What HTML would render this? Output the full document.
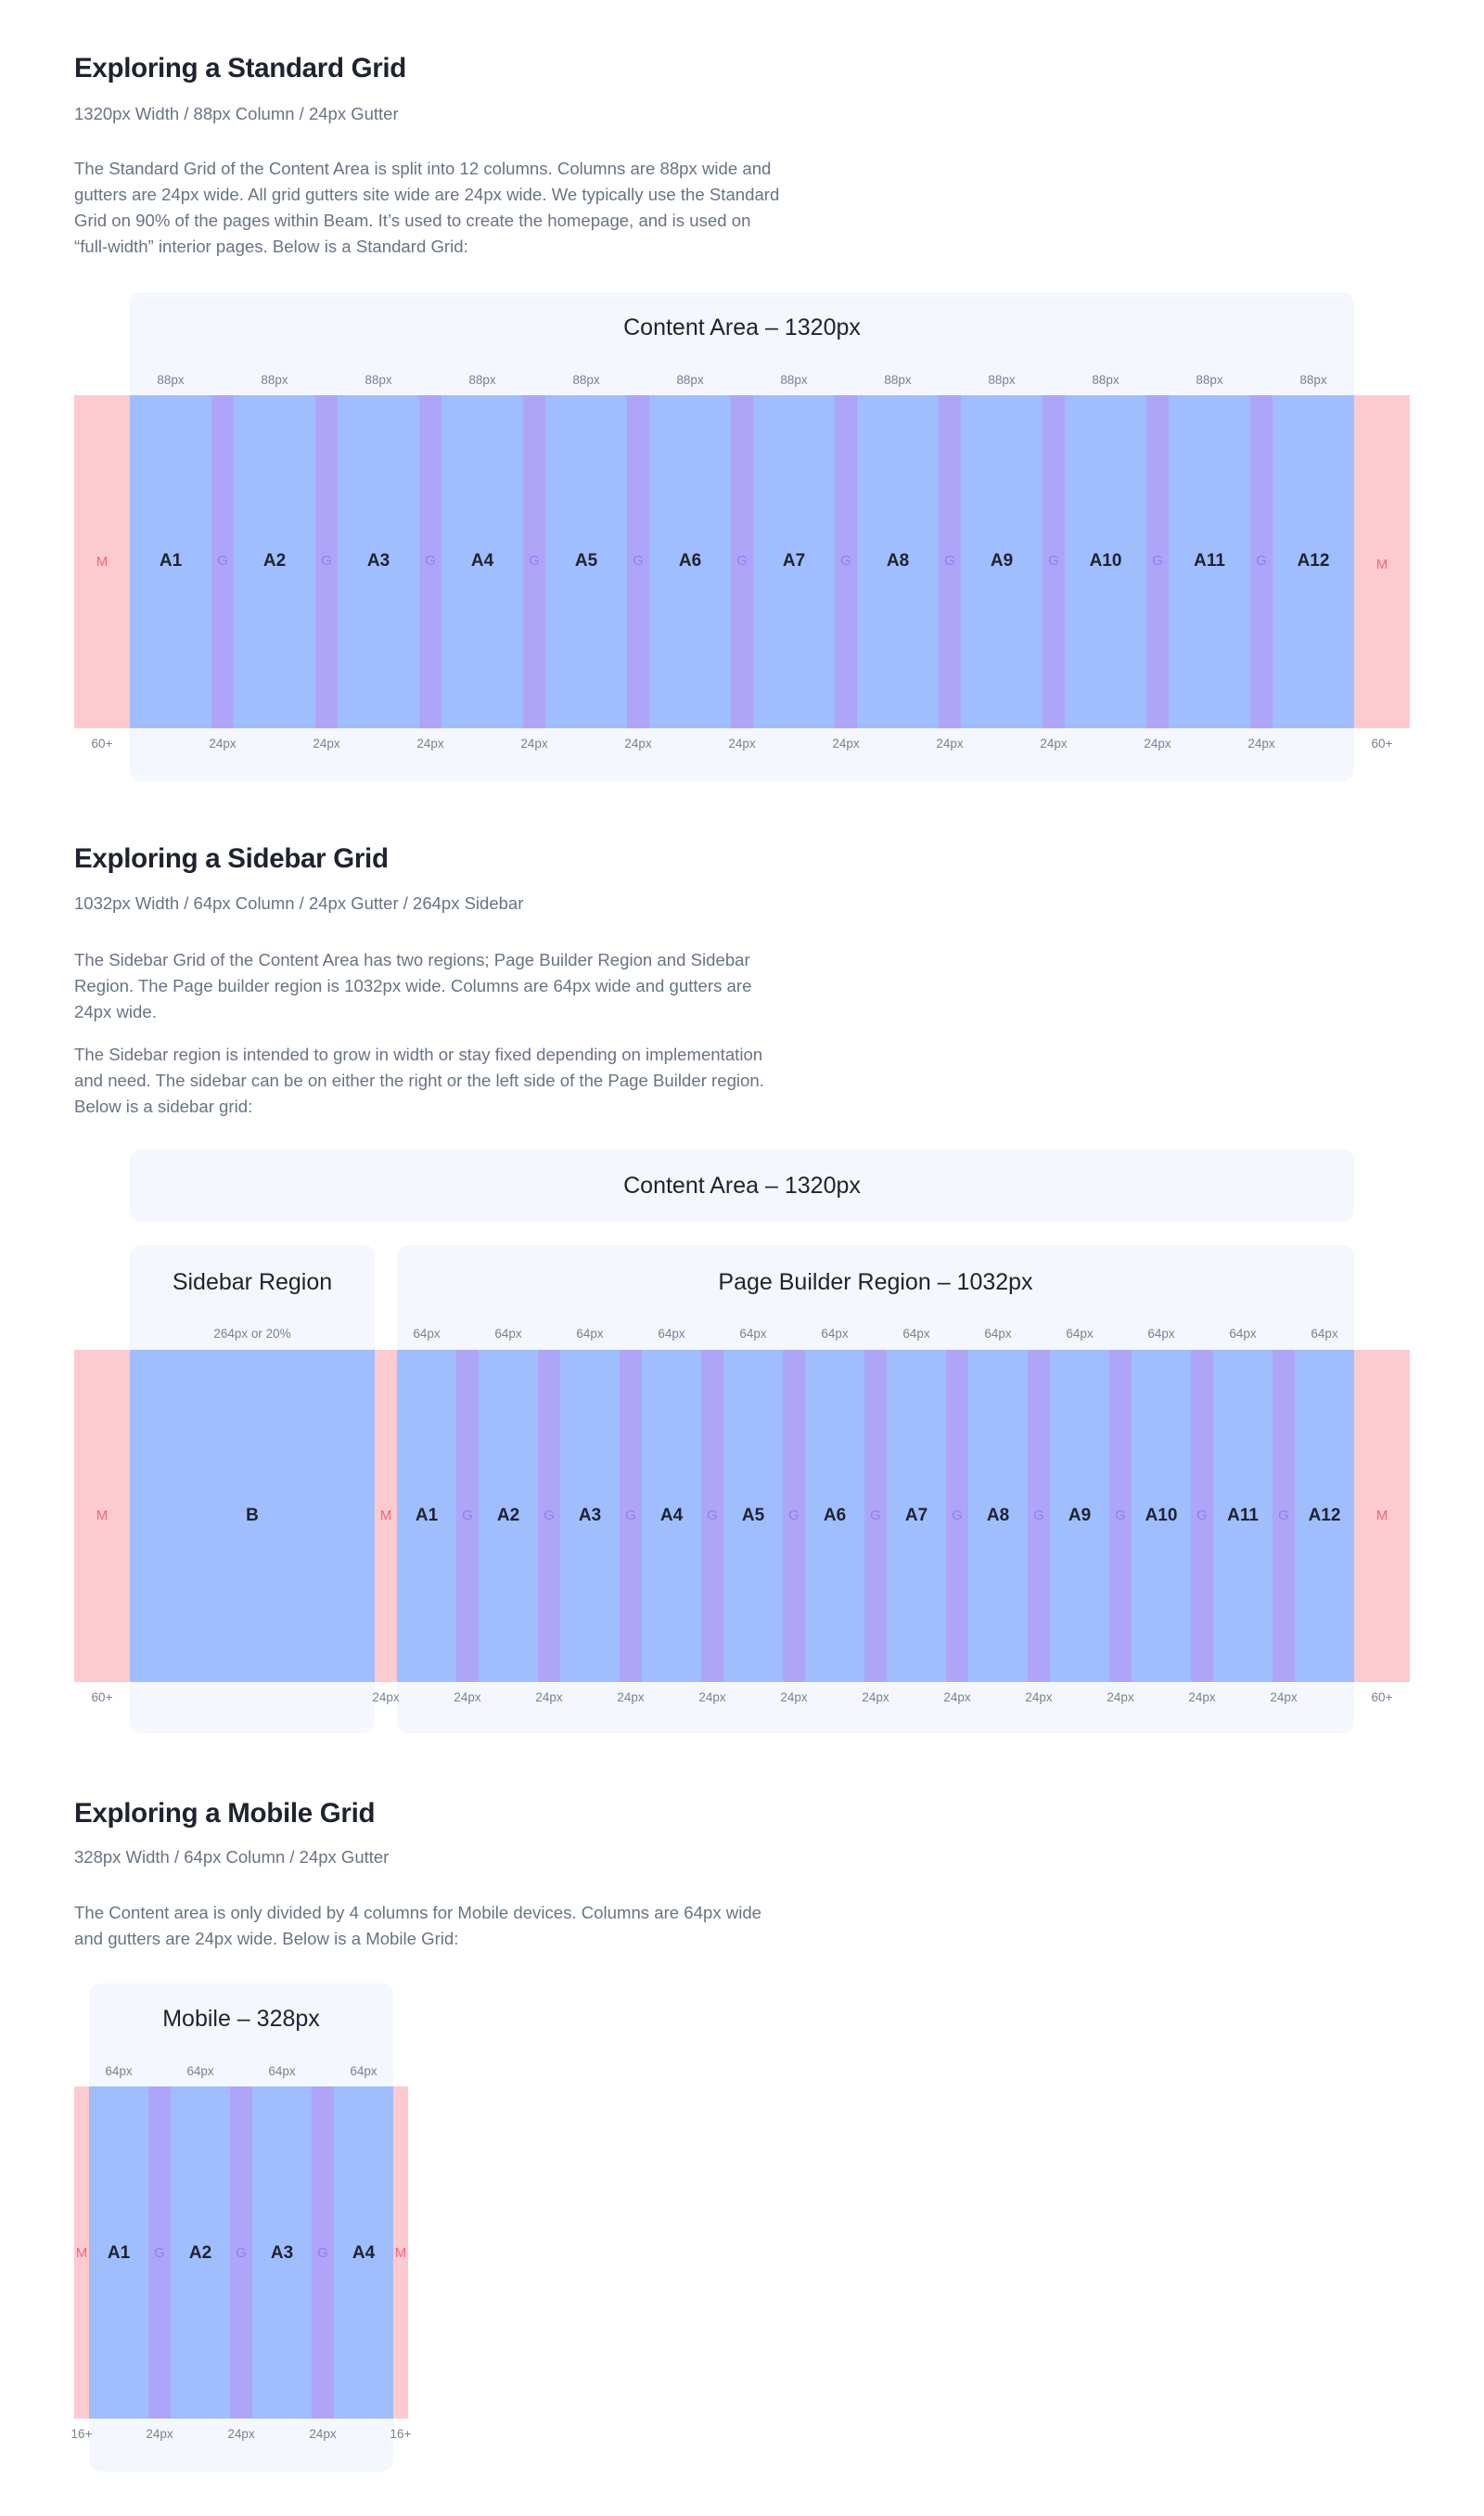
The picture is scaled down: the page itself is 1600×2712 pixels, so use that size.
<!DOCTYPE html>
<html><head><meta charset="utf-8"><title>Grid Systems</title>
<style>
*{margin:0;padding:0;box-sizing:border-box}
html,body{width:1600px;height:2712px;background:#fff;overflow:hidden}
body{position:relative;font-family:"Liberation Sans",sans-serif;color:#1f2330}
.abs{position:absolute}
h2{position:absolute;left:80px;font-size:29.5px;font-weight:700;line-height:36px;color:#1f2330;letter-spacing:-0.3px}
.sub{position:absolute;left:80px;font-size:18.5px;line-height:24px;color:#687385}
.para{position:absolute;left:80px;font-size:18.6px;line-height:28px;color:#687385;white-space:nowrap}
.card{position:absolute;background:#f4f7fe;border-radius:12px}
.title{position:absolute;text-align:center;font-size:25px;line-height:30px;color:#1f2330}
.lbl{position:absolute;text-align:center;font-size:13.5px;line-height:16px;color:#7a8190;width:120px;margin-left:-60px}
.col{position:absolute;background:#a0bdfd}
.gut{position:absolute;background:#aea5f9}
.mar{position:absolute;background:#fdcacf}
.tx{position:absolute;text-align:center;font-size:19px;line-height:24px;font-weight:700;width:80px;margin-left:-40px}
</style></head>
<body>
<h2 style="top:56px">Exploring a Standard Grid</h2>
<div class="sub" style="top:111px">1320px Width / 88px Column / 24px Gutter</div>
<div class="para" style="top:168px">The Standard Grid of the Content Area is split into 12 columns. Columns are 88px wide and<br>gutters are 24px wide. All grid gutters site wide are 24px wide. We typically use the Standard<br>Grid on 90% of the pages within Beam. It’s used to create the homepage, and is used on<br>“full-width” interior pages. Below is a Standard Grid:</div>

<h2 style="top:908px">Exploring a Sidebar Grid</h2>
<div class="sub" style="top:962px">1032px Width / 64px Column / 24px Gutter / 264px Sidebar</div>
<div class="para" style="top:1021px">The Sidebar Grid of the Content Area has two regions; Page Builder Region and Sidebar<br>Region. The Page builder region is 1032px wide. Columns are 64px wide and gutters are<br>24px wide.</div>
<div class="para" style="top:1123px">The Sidebar region is intended to grow in width or stay fixed depending on implementation<br>and need. The sidebar can be on either the right or the left side of the Page Builder region.<br>Below is a sidebar grid:</div>

<h2 style="top:1937px">Exploring a Mobile Grid</h2>
<div class="sub" style="top:1990px">328px Width / 64px Column / 24px Gutter</div>
<div class="para" style="top:2048px">The Content area is only divided by 4 columns for Mobile devices. Columns are 64px wide<br>and gutters are 24px wide. Below is a Mobile Grid:</div>

<div id="root"></div>
<script>
// Grid specs (design values)
const standardCols = ["A1","A2","A3","A4","A5","A6","A7","A8","A9","A10","A11","A12"];
const standardColWidth = 88;
const standardGutter = 24;
const standardMargin = 60;
const sidebarCols = ["A1","A2","A3","A4","A5","A6","A7","A8","A9","A10","A11","A12"];
const sidebarColWidth = 64;
const sidebarGutter = 24;
const sidebarWidth = 264;
const mobileCols = ["A1","A2","A3","A4"];
const mobileColWidth = 64;
const mobileGutter = 24;
const mobileMargin = 16;

const root = document.getElementById('root');
function mk(cls, x, y, w, h, text){
  const d = document.createElement('div');
  d.className = cls;
  d.style.left = x + 'px'; d.style.top = y + 'px';
  if (w != null) d.style.width = w + 'px';
  if (h != null) d.style.height = h + 'px';
  if (text != null) d.textContent = text;
  root.appendChild(d);
  return d;
}
function label(x, y, text){ return mk('lbl', x, y - 8, null, null, text); }
function tx(x, y, text, color){ const d = mk('tx', x, y - 12, null, null, text); d.style.color = color; return d; }

function drawColumns(names, x0, cw, gw, top, h, midY, topLblY, botLblY, prefix){
  names.forEach((n, i) => {
    const x = x0 + i * (cw + gw);
    const c = mk('col', x, top, cw, h);
    
    
    const t = tx(x + cw / 2, midY, n, '#1f2330');
    
    
    const l = label(x + cw / 2, topLblY, cw + 'px');
    
    
    if (i < names.length - 1) {
      const gx = x + cw;
      const g = mk('gut', gx, top, gw, h);
      
      
      const gt = tx(gx + gw / 2, midY, 'G', '#8c80f2');
      gt.style.fontWeight = '400'; gt.style.fontSize = '15px';
      
      
      const gl = label(gx + gw / 2, botLblY, gw + 'px');
      
      
    }
  });
}
function margin(x, w, top, h, midY, botLblY, lbl, prefix){
  const m = mk('mar', x, top, w, h);
  
  
  const t = tx(x + w / 2, midY, 'M', '#f4677a');
  t.style.fontWeight = '400'; t.style.fontSize = '15px';
  
  
  if (lbl) {
    const l = label(x + w / 2, botLblY, lbl);
    
    
  }
}

// ---------- Standard grid ----------
(function(){
  const x0 = 140, top = 426, h = 359;
  const W = standardCols.length * standardColWidth + (standardCols.length - 1) * standardGutter;
  const card = mk('card', x0, 315, W, 527);
  
  
  const t = mk('title', x0, 338, W, null, 'Content Area – 1320px');
  
  
  margin(x0 - standardMargin, standardMargin, top, h, 606, 802, '60+', 'standard-left');
  margin(x0 + W, standardMargin, top, h, 609, 802, '60+', 'standard-right');
  drawColumns(standardCols, x0, standardColWidth, standardGutter, top, h, 605, 410, 802, 'standard');
})();

// ---------- Sidebar grid ----------
(function(){
  const top = 1455, h = 358, mid = 1634;
  const card = mk('card', 140, 1239, 1320, 78);
  
  
  const t = mk('title', 140, 1263, 1320, null, 'Content Area – 1320px');
  
  
  const sc = mk('card', 140, 1342, sidebarWidth, 526);
  
  
  const st = mk('title', 140, 1367, sidebarWidth, null, 'Sidebar Region');
  
  
  const x0 = 140 + sidebarWidth + sidebarGutter;
  const W = sidebarCols.length * sidebarColWidth + (sidebarCols.length - 1) * sidebarGutter;
  const pc = mk('card', x0, 1342, W, 526);
  
  
  const pt = mk('title', x0, 1367, W, null, 'Page Builder Region – 1032px');
  
  
  margin(80, 60, top, h, mid, 1830, '60+', 'sidebar-left');
  const b = mk('col', 140, top, sidebarWidth, h);
  
  
  const bt = tx(140 + sidebarWidth / 2, mid, 'B', '#1f2330');
  
  
  const bl = label(140 + sidebarWidth / 2, 1438, '264px or 20%');
  
  
  margin(140 + sidebarWidth, sidebarGutter, top, h, mid, 1830, '24px', 'sidebar-middle');
  margin(x0 + W, 60, top, h, mid, 1830, '60+', 'sidebar-right');
  drawColumns(sidebarCols, x0, sidebarColWidth, sidebarGutter, top, h, mid, 1438, 1830, 'page-builder');
})();

// ---------- Mobile grid ----------
(function(){
  const x0 = 96, top = 2249, h = 358, mid = 2429;
  const W = mobileCols.length * mobileColWidth + (mobileCols.length - 1) * mobileGutter;
  const card = mk('card', x0, 2138, W, 526);
  
  
  const t = mk('title', x0, 2161, W, null, 'Mobile – 328px');
  
  
  margin(x0 - mobileMargin, mobileMargin, top, h, mid, 2624, '16+', 'mobile-left');
  margin(x0 + W, mobileMargin, top, h, mid, 2624, '16+', 'mobile-right');
  drawColumns(mobileCols, x0, mobileColWidth, mobileGutter, top, h, mid, 2233, 2624, 'mobile');
})();
</script>
</body></html>
